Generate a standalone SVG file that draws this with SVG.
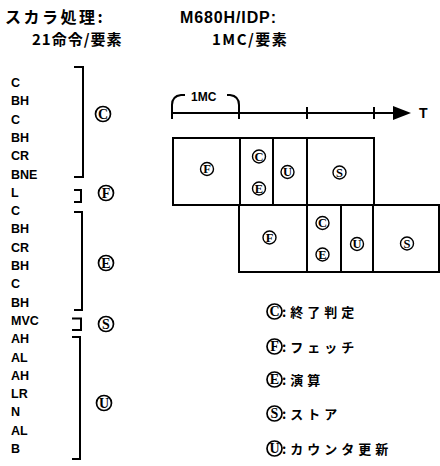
<svg xmlns="http://www.w3.org/2000/svg" width="440" height="466" viewBox="0 0 440 466">
<style>
.t{font-family:"Liberation Sans","Noto Sans CJK JP",sans-serif;font-weight:bold;fill:#000}
.j{font-family:"Noto Sans CJK JP","Noto Sans CJK SC",sans-serif;font-weight:bold;fill:#000}
.ins{font-family:"Liberation Sans",sans-serif;font-weight:bold;font-size:12.5px;fill:#000}
.cl{fill:none;stroke:#000;stroke-width:1.4}
.cl2{fill:none;stroke:#000;stroke-width:1.7}
.cc{font-family:"Liberation Serif",serif;font-size:12.5px;text-anchor:middle;fill:#000;font-weight:bold}
.cc2{font-family:"Liberation Serif",serif;font-size:14px;text-anchor:middle;fill:#000;font-weight:bold}
.ln{fill:none;stroke:#000;stroke-width:2}
.bx{fill:#fff;stroke:#000;stroke-width:2}
</style>
<g id="titles">
<text class="j" x="5" y="23" font-size="16" letter-spacing="2.5">スカラ処理:</text>
<text class="j" x="32" y="45" font-size="15" letter-spacing="1">21命令/要素</text>
<text class="t" x="180" y="23" font-size="16" textLength="96">M680H/IDP:</text>
<text class="j" x="212" y="45" font-size="15" letter-spacing="1.5">1MC/要素</text>
</g>
<g id="instructions" class="ins">
<text x="11" y="87">C</text>
<text x="11" y="105.3">BH</text>
<text x="11" y="123.6">C</text>
<text x="11" y="141.9">BH</text>
<text x="11" y="160.2">CR</text>
<text x="11" y="178.5">BNE</text>
<text x="11" y="196.8">L</text>
<text x="11" y="215.1">C</text>
<text x="11" y="233.4">BH</text>
<text x="11" y="251.7">CR</text>
<text x="11" y="270">BH</text>
<text x="11" y="288.3">C</text>
<text x="11" y="306.6">BH</text>
<text x="11" y="324.9">MVC</text>
<text x="11" y="343.2">AH</text>
<text x="11" y="361.5">AL</text>
<text x="11" y="379.8">AH</text>
<text x="11" y="398.1">LR</text>
<text x="11" y="416.4">N</text>
<text x="11" y="434.7">AL</text>
<text x="11" y="453">B</text>
</g>
<g id="connectors">
<path class="ln" d="M74,67 H83 V177 H74"/>
<path class="ln" d="M74,190 H81 V202 H74"/>
<path class="ln" d="M74,212 H82 V310 H74"/>
<path class="ln" d="M72,318.5 H81 V330 H72"/>
<path class="ln" d="M72,337 H80 V459 H72"/>
</g>
<g id="group-labels">
<circle class="cl2" cx="103" cy="114" r="7.5"/><text class="cc2" x="103" y="118.8">C</text>
<circle class="cl2" cx="106" cy="193" r="7.5"/><text class="cc2" x="106" y="197.8">F</text>
<circle class="cl2" cx="106" cy="263" r="7.5"/><text class="cc2" x="106" y="267.8">E</text>
<circle class="cl2" cx="106" cy="324" r="7.5"/><text class="cc2" x="106" y="328.8">S</text>
<circle class="cl2" cx="104" cy="403" r="7.5"/><text class="cc2" x="104" y="407.8">U</text>
</g>
<g id="timeline">
<path class="ln" d="M172,113 H395" stroke-width="2.5"/>
<polygon points="393,106 411,113 393,120" fill="#000"/>
<path class="ln" d="M307,107 V119 M374,107 V119"/>
<path class="ln" d="M172,119 V105 Q172,96 181,95 H185 M227,95 H230 Q239,96 239,105 V119"/>
<text class="t" x="191" y="101" font-size="12">1MC</text>
<text class="t" x="419" y="118" font-size="14">T</text>
</g>
<g id="row1">
<rect class="bx" x="173" y="138" width="201" height="67"/>
<path class="ln" d="M240,138 V205 M273,138 V205 M307,138 V205"/>
<circle class="cl" cx="207" cy="169" r="6.5"/><text class="cc" x="207" y="173.3">F</text>
<circle class="cl" cx="259" cy="156.5" r="6.5"/><text class="cc" x="259" y="160.8">C</text>
<circle class="cl" cx="259" cy="188.5" r="6.5"/><text class="cc" x="259" y="192.8">E</text>
<circle class="cl" cx="287.5" cy="172" r="6.5"/><text class="cc" x="287.5" y="176.3">U</text>
<circle class="cl" cx="339.5" cy="172.5" r="6.5"/><text class="cc" x="339.5" y="176.8">S</text>
</g>
<g id="row2">
<rect class="bx" x="239" y="205" width="200" height="67"/>
<path class="ln" d="M307,205 V272 M341,205 V272 M373,205 V272"/>
<circle class="cl" cx="269.5" cy="237.5" r="6.5"/><text class="cc" x="269.5" y="241.8">F</text>
<circle class="cl" cx="322.5" cy="223" r="6.5"/><text class="cc" x="322.5" y="227.3">C</text>
<circle class="cl" cx="322.5" cy="254.5" r="6.5"/><text class="cc" x="322.5" y="258.8">E</text>
<circle class="cl" cx="357" cy="244" r="6.5"/><text class="cc" x="357" y="248.3">U</text>
<circle class="cl" cx="407" cy="243.5" r="6.5"/><text class="cc" x="407" y="247.8">S</text>
</g>
<g id="legend">
<circle class="cl2" cx="274.5" cy="311.5" r="7.5"/><text class="cc2" x="274.5" y="316.3">C</text>
<text class="j" x="282" y="317" font-size="13" letter-spacing="4">:終了判定</text>
<circle class="cl2" cx="274.5" cy="346.5" r="7.5"/><text class="cc2" x="274.5" y="351.3">F</text>
<text class="j" x="282" y="352" font-size="13" letter-spacing="4">:フェッチ</text>
<circle class="cl2" cx="274.5" cy="379.5" r="7.5"/><text class="cc2" x="274.5" y="384.3">E</text>
<text class="j" x="282" y="385" font-size="13" letter-spacing="4">:演算</text>
<circle class="cl2" cx="274.5" cy="413.5" r="7.5"/><text class="cc2" x="274.5" y="418.3">S</text>
<text class="j" x="282" y="419" font-size="13" letter-spacing="4">:ストア</text>
<circle class="cl2" cx="274.5" cy="448.5" r="7.5"/><text class="cc2" x="274.5" y="453.3">U</text>
<text class="j" x="282" y="454" font-size="13" letter-spacing="4">:カウンタ更新</text>
</g>
</svg>
